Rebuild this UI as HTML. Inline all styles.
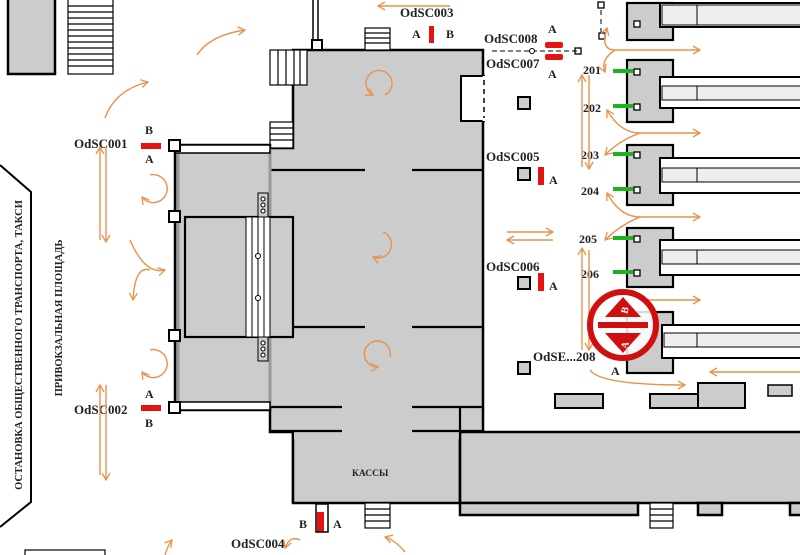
<!DOCTYPE html>
<html><head><meta charset="utf-8"><style>
html,body{margin:0;padding:0;background:#fff;width:800px;height:555px;overflow:hidden}
svg{display:block}
text{font-family:"Liberation Serif",serif;font-weight:bold;fill:#222}
</style></head><body>
<svg width="800" height="555" viewBox="0 0 800 555" xmlns="http://www.w3.org/2000/svg">
<defs>
<marker id="ah" markerWidth="10" markerHeight="10" refX="8" refY="5" orient="auto" markerUnits="userSpaceOnUse">
<path d="M1,1 L8,5 L1,9" fill="none" stroke="#e8914a" stroke-width="1.3"/></marker>
</defs>
<g stroke="#000" stroke-width="2.5">
<rect x="8" y="-2" width="47" height="76" fill="#ccc"/>
</g>
<g stroke="#000" stroke-width="1.2" fill="#fff">
<rect x="68" y="-2" width="45" height="76"/>
<path d="M68,6H113M68,12H113M68,18H113M68,24H113M68,30H113M68,36H113M68,42H113M68,48H113M68,54H113M68,60H113M68,66H113" fill="none"/>
</g>
<path d="M0,165 L31,192 L31,502 L0,527" fill="none" stroke="#000" stroke-width="2"/>
<text transform="translate(22,345) rotate(-90)" text-anchor="middle" font-size="10.5">ОСТАНОВКА ОБЩЕСТВЕННОГО ТРАНСПОРТА, ТАКСИ</text>
<text transform="translate(62,318) rotate(-90)" text-anchor="middle" font-size="10.5">ПРИВОКЗАЛЬНАЯ ПЛОЩАДЬ</text>
<g stroke="#000" stroke-width="2.5" fill="#ccc">
<path d="M293,50 H483 V432 H293 V503 H293 V432 H270 V148 H293 Z"/>
<rect x="293" y="432" width="167" height="71"/>
<rect x="460" y="432" width="345" height="71"/>
<rect x="460" y="503" width="178" height="12"/>
<rect x="698" y="503" width="24" height="12"/>
<rect x="790" y="503" width="20" height="12"/>
</g>
<rect x="294" y="425" width="165" height="14" fill="#ccc"/>
<rect x="461" y="76" width="23" height="45" fill="#fff" stroke="#000" stroke-width="2"/>
<line x1="484" y1="76" x2="484" y2="121" stroke="#fff" stroke-width="3"/>
<line x1="484" y1="80" x2="484" y2="118" stroke="#000" stroke-width="1.5" stroke-dasharray="5,4"/>
<g stroke="#000" stroke-width="2.2">
<path d="M270,170H365M412,170H483M293,327H365M412,327H483M270,407H342M412,407H483M270,431H342M412,431H483M460,407V503"/>
</g>
<g stroke="#000" stroke-width="1.2" fill="#fff">
<rect x="270" y="50" width="37" height="35"/>
<path d="M278,50V85M286,50V85M294,50V85M300,50V85" fill="none"/>
<rect x="270" y="122" width="23" height="26"/>
<path d="M270,128H293M270,134H293M270,140H293" fill="none"/>
<rect x="365" y="28" width="25" height="22"/>
<path d="M365,33H390M365,38H390M365,43H390" fill="none"/>
<rect x="365" y="503" width="25" height="25"/>
<path d="M365,509H390M365,515H390M365,521H390" fill="none"/>
<rect x="650" y="503" width="23" height="25"/>
<path d="M650,509H673M650,515H673M650,521H673" fill="none"/>
<rect x="25" y="550" width="80" height="8"/>
</g>
<path d="M313,0V42M318,0V42" stroke="#000" stroke-width="1.5"/>
<rect x="312" y="40" width="10" height="10" fill="#fff" stroke="#000" stroke-width="2"/>
<rect x="175" y="145" width="95" height="265" fill="#ccc" stroke="#000" stroke-width="2.5"/>
<rect x="178" y="150" width="92" height="255" fill="none" stroke="#999" stroke-width="3"/>
<rect x="175" y="145" width="95" height="8" fill="#fff" stroke="#000" stroke-width="1.5"/>
<rect x="175" y="402" width="95" height="8" fill="#fff" stroke="#000" stroke-width="1.5"/>
<rect x="185" y="217" width="108" height="120" fill="#ccc" stroke="#000" stroke-width="2.2"/>
<g stroke="#000" stroke-width="1" fill="#fff">
<rect x="246" y="217" width="24" height="120"/>
<path d="M252,217V337M258,217V337M264,217V337" fill="none"/>
<rect x="258" y="193" width="10" height="24" fill="#ccc"/>
<rect x="258" y="337" width="10" height="24" fill="#ccc"/>
<circle cx="263" cy="199" r="2"/><circle cx="263" cy="205" r="2"/><circle cx="263" cy="211" r="2"/>
<circle cx="263" cy="343" r="2"/><circle cx="263" cy="349" r="2"/><circle cx="263" cy="355" r="2"/>
<circle cx="258" cy="256" r="2.5"/><circle cx="258" cy="298" r="2.5"/>
</g>
<g fill="#fff" stroke="#000" stroke-width="2">
<rect x="169" y="140" width="11" height="11"/><rect x="169" y="211" width="11" height="11"/>
<rect x="169" y="330" width="11" height="11"/><rect x="169" y="402" width="11" height="11"/>
</g>
<g stroke="#000" stroke-width="2.2" fill="#ccc">
<rect x="627" y="3" width="46" height="37"/>
<rect x="627" y="60" width="46" height="62"/>
<rect x="627" y="145" width="46" height="60"/>
<rect x="627" y="228" width="46" height="59"/>
<rect x="627" y="312" width="46" height="61"/>
</g>
<g stroke="#000" stroke-width="2" fill="#fff">
<rect x="660" y="3" width="150" height="24"/>
<rect x="660" y="77" width="150" height="31"/>
<rect x="660" y="158" width="150" height="35"/>
<rect x="660" y="240" width="150" height="35"/>
<rect x="662" y="325" width="150" height="33"/>
</g>
<g stroke="#000" stroke-width="1" fill="#eee">
<rect x="662" y="5" width="148" height="20"/>
<rect x="662" y="86" width="148" height="14"/>
<rect x="662" y="168" width="148" height="14"/>
<rect x="662" y="250" width="148" height="14"/>
<rect x="664" y="333" width="148" height="14"/>
<path d="M697,5V25M697,86V100M697,168V182M697,250V264M697,333V347"/>
</g>
<g fill="#fff" stroke="#000" stroke-width="1.3">
<rect x="634" y="21" width="6" height="6"/><rect x="634" y="69" width="6" height="6"/><rect x="634" y="104" width="6" height="6"/>
<rect x="634" y="152" width="6" height="6"/><rect x="634" y="187" width="6" height="6"/>
<rect x="634" y="236" width="6" height="6"/><rect x="634" y="270" width="6" height="6"/>
<rect x="598" y="2" width="6" height="6"/><rect x="599" y="33" width="6" height="6"/>
<rect x="575" y="48" width="6" height="6"/>
</g>
<g stroke="#000" stroke-width="2" fill="#ccc">
<rect x="518" y="97" width="12" height="12"/><rect x="518" y="168" width="12" height="12"/>
<rect x="518" y="277" width="12" height="12"/><rect x="518" y="362" width="12" height="12"/>
<rect x="555" y="394" width="48" height="14"/>
<rect x="650" y="394" width="48" height="14"/>
<rect x="698" y="383" width="47" height="25"/>
<rect x="768" y="385" width="24" height="11" stroke-width="1.5"/>
</g>
<g stroke="#1db31d" stroke-width="4">
<path d="M613,71H633M613,106H633M613,154H633M613,189H633M613,238H633M613,272H633"/>
</g>
<line x1="492" y1="51" x2="578" y2="51" stroke="#000" stroke-width="1" stroke-dasharray="5,3"/>
<line x1="601" y1="10" x2="601" y2="33" stroke="#000" stroke-width="1" stroke-dasharray="5,4"/>
<circle cx="532" cy="51" r="2.5" fill="#fff" stroke="#000"/>
<g fill="#e41414">
<rect x="141" y="143" width="20" height="6"/><rect x="141" y="405" width="20" height="6"/>
<rect x="429" y="26" width="5" height="17"/>
<rect x="545" y="42" width="18" height="6" rx="2"/><rect x="545" y="54" width="18" height="6" rx="2"/>
<rect x="538" y="167" width="6" height="18"/><rect x="538" y="273" width="6" height="18"/>
<rect x="317" y="512" width="7" height="20"/>
</g>
<rect x="316" y="504" width="12" height="28" fill="none" stroke="#000" stroke-width="1.5"/>
<g font-size="13">
<text x="74" y="148">OdSC001</text><text x="74" y="414">OdSC002</text>
<text x="400" y="17">OdSC003</text><text x="231" y="548">OdSC004</text>
<text x="486" y="161">OdSC005</text><text x="486" y="271">OdSC006</text>
<text x="484" y="43">OdSC008</text><text x="486" y="68">OdSC007</text>
<text x="533" y="361">OdSE...208</text>
</g>
<g font-size="12">
<text x="145" y="134">B</text><text x="145" y="163">A</text>
<text x="145" y="398">A</text><text x="145" y="427">B</text>
<text x="412" y="38">A</text><text x="446" y="38">B</text>
<text x="548" y="33">A</text><text x="548" y="78">A</text>
<text x="549" y="184">A</text><text x="549" y="290">A</text>
<text x="299" y="528">B</text><text x="333" y="528">A</text>
<text x="611" y="375">A</text>
<text x="352" y="476" font-size="9.5">КАССЫ</text>
<text x="583" y="74">201</text><text x="583" y="112">202</text><text x="581" y="159">203</text>
<text x="581" y="195">204</text><text x="579" y="243">205</text><text x="581" y="278">206</text>
</g>
<g fill="none" stroke="#e8914a" stroke-width="1.4" marker-end="url(#ah)">
<path d="M450,6H378"/>
<path d="M197,55Q210,35 245,30"/>
<path d="M105,118Q115,90 148,82"/>
<path d="M100,240V147"/><path d="M106,147V242"/>
<path d="M100,475V385"/><path d="M106,385V480"/>
<path d="M150,175A14,14 0 1 1 142,197"/>
<path d="M150,350A14,14 0 1 1 142,372" />
<path d="M130,240Q145,275 165,270"/>
<path d="M150,270Q135,265 133,300"/>
<path d="M385,95A13,13 0 1 0 373,95"/>
<path d="M383,232A13,13 0 1 1 373,257"/>
<path d="M390,357A13,13 0 1 0 378,367"/>
<path d="M507,232H553"/><path d="M553,240H507"/>
<path d="M582,167V75"/><path d="M589,75V169"/>
<path d="M582,350V248"/><path d="M589,250V350"/>
<path d="M615,50Q600,50 607,28"/><path d="M615,50H700"/><path d="M615,50Q600,60 605,72"/>
<path d="M640,133Q620,133 607,110"/><path d="M640,133H700"/><path d="M640,133Q620,140 605,155"/>
<path d="M640,217Q620,217 607,193"/><path d="M640,217H700"/><path d="M640,217Q620,225 605,240"/>
<path d="M640,300H700"/>
<path d="M590,370Q600,385 685,385"/>
<path d="M800,372H710"/>
<path d="M300,540Q290,535 285,548"/>
<path d="M165,555Q168,545 172,540"/>
<path d="M405,552Q395,540 385,537"/>
</g>
<circle cx="623" cy="325" r="33" fill="#fff" fill-opacity="0.85" stroke="#d01010" stroke-width="6"/>
<polygon points="623,297 605,317 641,317" fill="#d01010"/>
<polygon points="623,353 605,333 641,333" fill="#d01010"/>
<rect x="598" y="322" width="50" height="6" fill="#d01010"/>
<text transform="translate(628,311) rotate(-75)" font-size="10" style="fill:#fff" text-anchor="middle">B</text>
<text transform="translate(628,346) rotate(-75)" font-size="10" style="fill:#fff" text-anchor="middle">A</text>
</svg>
</body></html>
